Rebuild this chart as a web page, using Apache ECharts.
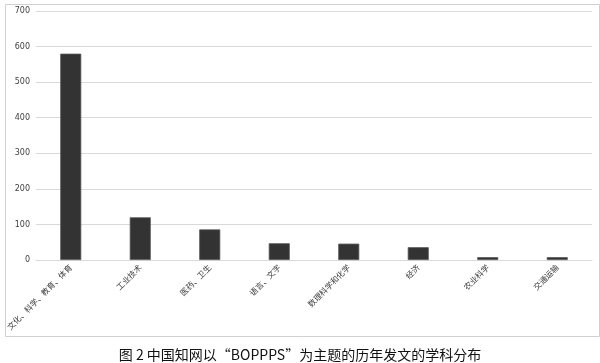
<!DOCTYPE html>
<html><head><meta charset="utf-8">
<script src="https://cdn.jsdelivr.net/npm/echarts@6/dist/echarts.min.js"></script>
<style>html,body{margin:0;padding:0;background:#fff}#c{width:600px;height:363px}</style>
</head><body><div id="c"></div>
<script>
const categories = ['文化、科学、教育、体育','工业技术','医药、卫生','语言、文字','数理科学和化学','经济','农业科学','交通运输'];
const values = [580, 120, 86, 47, 46, 36, 8, 8];
const yTicks = [0, 100, 200, 300, 400, 500, 600, 700];
const titleText = '图 2 中国知网以“BOPPPS”为主题的历年发文的学科分布';

const chart = echarts.init(document.getElementById('c'), null, {renderer: 'canvas'});
chart.setOption({
  animation: false,
  backgroundColor: '#fff',
  grid: {left: 36, right: 8, top: 11, bottom: 103},
  title: {
    text: titleText, left: 'center', top: 343,
    textStyle: {fontFamily: 'Noto Sans CJK SC', fontSize: 14, fontWeight: 'normal', color: '#111'}
  },
  graphic: [{
    type: 'rect', shape: {x: 5.5, y: 4.5, width: 594, height: 332},
    style: {fill: 'none', stroke: '#d0d0d0', lineWidth: 1}, silent: true
  }],
  xAxis: {
    type: 'category', data: categories,
    axisLine: {show: true, lineStyle: {color: '#d9d9d9', width: 1}},
    axisTick: {show: false},
    axisLabel: {rotate: 45, interval: 0, margin: 6, fontSize: 8, color: '#404040', fontFamily: 'Noto Sans CJK SC'}
  },
  yAxis: {
    type: 'value', min: 0, max: 700, interval: 100,
    axisLine: {show: false}, axisTick: {show: false},
    axisLabel: {fontSize: 8, color: '#404040', margin: 6, fontFamily: 'DejaVu Sans',
      formatter: v => yTicks.includes(v) ? String(v) : ''},
    splitLine: {lineStyle: {color: '#d9d9d9', width: 1}}
  },
  series: [{
    type: 'bar', data: values, barWidth: 21,
    itemStyle: {color: '#333333', borderColor: '#555555', borderWidth: 0.8}
  }]
});
</script></body></html>
